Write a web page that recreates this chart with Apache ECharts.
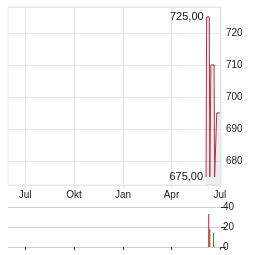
<!DOCTYPE html>
<html><head><meta charset="utf-8">
<script src="https://cdn.jsdelivr.net/npm/echarts@6/dist/echarts.min.js"></script>
<style>html,body{margin:0;padding:0;background:#fff}#c{width:264px;height:255px}</style>
</head><body><div id="c"></div>
<script>
// Axis range (calendar days)
const axisStart = '2023-05-30';
const axisEnd = '2024-07-03';
const monthNames = ['Jan','Feb','Mär','Apr','Mai','Jun','Jul','Aug','Sep','Okt','Nov','Dez'];
const tickMonths = [1, 4, 7, 10];

// Price series
const priceDates = ['2024-06-05','2024-06-06','2024-06-11','2024-06-12','2024-06-13','2024-06-14','2024-06-20','2024-06-21','2024-06-24','2024-06-25','2024-07-01'];
const priceValues = [675, 725, 725, 675, 675, 710, 710, 675, 675, 695, 695];

// Volume series
const volumeDates = ['2024-06-10','2024-06-12','2024-06-19'];
const volumeValues = [33, 18, 14];
const volumeColors = ['#b22222', '#b22222', '#1a9a1a'];

// price axis ticks
const priceMin = 672.5, priceMax = 728.1;
const volumeTicks = [0, 20, 40];

function fmt(d){const p=n=>String(n).padStart(2,'0');return d.getUTCFullYear()+'-'+p(d.getUTCMonth()+1)+'-'+p(d.getUTCDate());}
const days = [];
for (let d = new Date(axisStart+'T00:00:00Z'); d <= new Date(axisEnd+'T00:00:00Z'); d = new Date(d.getTime()+86400000)) days.push(fmt(d));
const priceData = days.map(d => { const i = priceDates.indexOf(d); return i >= 0 ? priceValues[i] : null; });
const volData = days.map(d => { const i = volumeDates.indexOf(d); return i >= 0 ? {value: volumeValues[i], itemStyle:{color: volumeColors[i]}} : null; });
const isTick = (idx, v) => { const s = v || days[idx]; return s.slice(8)==='01' && tickMonths.includes(+s.slice(5,7)); };
const lbl = v => monthNames[+v.slice(5,7)-1];

const chart = echarts.init(document.getElementById('c'), null, {renderer:'canvas'});
chart.setOption({
  animation:false,
  textStyle:{fontFamily:'Liberation Sans, Arial, sans-serif'},
  grid:[
    {left:8, right:43, top:7, height:178, show:true, borderColor:'#e6e6e6', borderWidth:1},
    {left:8, right:43, top:207, height:40}
  ],
  xAxis:[
    {type:'category', gridIndex:0, data:days, boundaryGap:false,
     axisLine:{show:false},
     axisTick:{show:true, interval:isTick, length:3, lineStyle:{color:'#e6e6e6'}},
     splitLine:{show:true, interval:isTick, lineStyle:{color:'#e6e6e6'}},
     axisLabel:{interval:isTick, formatter:lbl, color:'#222', fontSize:10, margin:5}},
    {type:'category', gridIndex:1, data:days, boundaryGap:false, position:'top',
     axisLine:{show:false},
     axisTick:{show:true, inside:true, interval:isTick, length:3, lineStyle:{color:'#333'}},
     splitLine:{show:false}, axisLabel:{show:false}}
  ],
  yAxis:[
    {type:'value', gridIndex:0, position:'right', min:priceMin, max:priceMax, splitNumber:5,
     axisLine:{show:false}, axisTick:{show:false},
     splitLine:{lineStyle:{color:'#e6e6e6'}},
     axisLabel:{color:'#222', fontSize:10, margin:5, showMinLabel:false, showMaxLabel:false}},
    {type:'value', gridIndex:1, position:'right', min:0, max:40, interval:20,
     axisLine:{show:false}, axisTick:{show:true, length:5, lineStyle:{color:'#333'}},
     splitLine:{lineStyle:{color:'#cccccc'}},
     axisLabel:{color:'#222', fontSize:10, margin:2}}
  ],
  series:[
    {type:'line', xAxisIndex:0, yAxisIndex:0, data:priceData, connectNulls:true, showSymbol:false,
     lineStyle:{color:'#c0303c', width:1}, areaStyle:{color:'rgba(200,208,218,0.55)'},
     markPoint:{symbol:'circle', symbolSize:0,
       data:[{type:'max'},{type:'min'}],
       label:{show:true, position:'left', distance:3, color:'#111', fontSize:11,
         formatter:p => p.value.toFixed(2).replace('.', ',')}}},
    {type:'bar', xAxisIndex:1, yAxisIndex:1, data:volData, barWidth:1, barMinWidth:1}
  ]
});
</script></body></html>
